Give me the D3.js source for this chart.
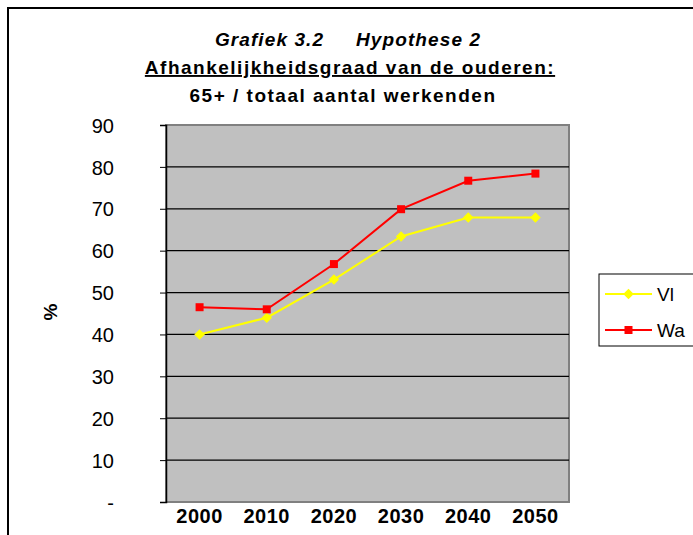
<!DOCTYPE html>
<html><head><meta charset="utf-8">
<script src="https://cdn.jsdelivr.net/npm/d3@7"></script>
<style>body{margin:0;background:#fff}svg{display:block;font-family:"Liberation Sans",Arial,sans-serif}</style>
</head><body>
<svg id="c" width="693" height="535"></svg>
<script>
const years = ["2000","2010","2020","2030","2040","2050"];
const vl = [40.0, 44.0, 53.1, 63.4, 67.9, 67.9];
const wa = [46.5, 46.0, 56.8, 69.9, 76.7, 78.4];
const yTicks = [0,10,20,30,40,50,60,70,80,90];
const seriesNames = ["Vl","Wa"];

const svg = d3.select("#c");
svg.append("rect").attr("x",8).attr("y",8).attr("width",720).attr("height",560)
  .attr("fill","none").attr("stroke","#000").attr("stroke-width",2);

const L=166,R=569,T=125,B=502;
const x = d3.scaleBand().domain(years).range([L,R]);
const y = d3.scaleLinear().domain([0,90]).range([B,T]);

svg.append("rect").attr("x",L).attr("y",T).attr("width",R-L).attr("height",B-T)
  .attr("fill","#c0c0c0").attr("stroke","#808080").attr("stroke-width",2);

svg.append("g").selectAll("line").data(yTicks.slice(1,-1)).join("line")
  .attr("x1",L).attr("x2",R).attr("y1",d=>y(d)).attr("y2",d=>y(d))
  .attr("stroke","#000").attr("stroke-width",1.2);

const tf = "Liberation Sans, Arial, sans-serif";
const ya = svg.append("g").attr("transform",`translate(${L},0)`)
  .call(d3.axisLeft(y).tickValues(yTicks).tickSize(6).tickPadding(46)
    .tickFormat(d=>d===0?"-":d));
ya.select(".domain").attr("stroke","#000").attr("stroke-width",1.5);
ya.selectAll(".tick line").attr("stroke","#000");
ya.selectAll("text").attr("font-size",20).attr("fill","#000")
  .attr("font-family",tf).attr("dy","0.36em");

const xa = svg.append("g").attr("transform",`translate(0,${B})`)
  .call(d3.axisBottom(x).tickSize(0).tickPadding(7));
xa.select(".domain").remove();
xa.selectAll("text").attr("font-size",20).attr("font-weight","bold").attr("fill","#000")
  .attr("font-family",tf).attr("letter-spacing",0.5);

const cx = d=>x(d)+x.bandwidth()/2;
const line = d3.line().x((d,i)=>cx(years[i])).y(d=>y(d));
svg.append("path").datum(vl).attr("d",line).attr("fill","none").attr("stroke","#ffff00").attr("stroke-width",2);
svg.append("path").datum(wa).attr("d",line).attr("fill","none").attr("stroke","#ff0000").attr("stroke-width",2);
const diamond = d3.symbol().type(d3.symbolDiamond2).size(70);
svg.append("g").selectAll("path").data(vl).join("path")
  .attr("transform",(d,i)=>`translate(${cx(years[i])},${y(d)})`).attr("d",diamond).attr("fill","#ffff00");
svg.append("g").selectAll("rect").data(wa).join("rect")
  .attr("x",(d,i)=>cx(years[i])-4).attr("y",d=>y(d)-4).attr("width",8).attr("height",8).attr("fill","#ff0000");

// title
svg.append("text").attr("x",348).attr("y",46).attr("text-anchor","middle").attr("font-family",tf)
  .attr("font-size",19).attr("font-weight","bold").attr("font-style","italic").attr("letter-spacing",1.1)
  .attr("xml:space","preserve").text("Grafiek 3.2     Hypothese 2");
svg.append("text").attr("x",350).attr("y",74).attr("text-anchor","middle").attr("font-family",tf)
  .attr("font-size",19).attr("font-weight","bold").attr("text-decoration","underline").attr("letter-spacing",1.5)
  .text("Afhankelijkheidsgraad van de ouderen:");
svg.append("text").attr("x",343).attr("y",102).attr("text-anchor","middle").attr("font-family",tf)
  .attr("font-size",19).attr("font-weight","bold").attr("letter-spacing",1.5).text("65+ / totaal aantal werkenden");

svg.append("text").attr("transform","translate(57,312) rotate(-90)").attr("text-anchor","middle")
  .attr("font-family",tf).attr("font-size",19).attr("font-weight","bold").text("%");

// legend
const lg = svg.append("g");
lg.append("rect").attr("x",599).attr("y",274).attr("width",120).attr("height",72)
  .attr("fill","#fff").attr("stroke","#000").attr("stroke-width",1);
const lcol = ["#ffff00","#ff0000"];
seriesNames.forEach((n,i)=>{
  const yy = 294 + i*36;
  lg.append("line").attr("x1",605).attr("x2",652).attr("y1",yy).attr("y2",yy).attr("stroke",lcol[i]).attr("stroke-width",2);
  if(i===0) lg.append("path").attr("transform",`translate(628.5,${yy})`).attr("d",diamond).attr("fill",lcol[i]);
  else lg.append("rect").attr("x",624.5).attr("y",yy-4).attr("width",8).attr("height",8).attr("fill",lcol[i]);
  lg.append("text").attr("x",657).attr("y",yy).attr("dy","0.36em").attr("font-family",tf).attr("font-size",19).text(n);
});
</script>
</body></html>
